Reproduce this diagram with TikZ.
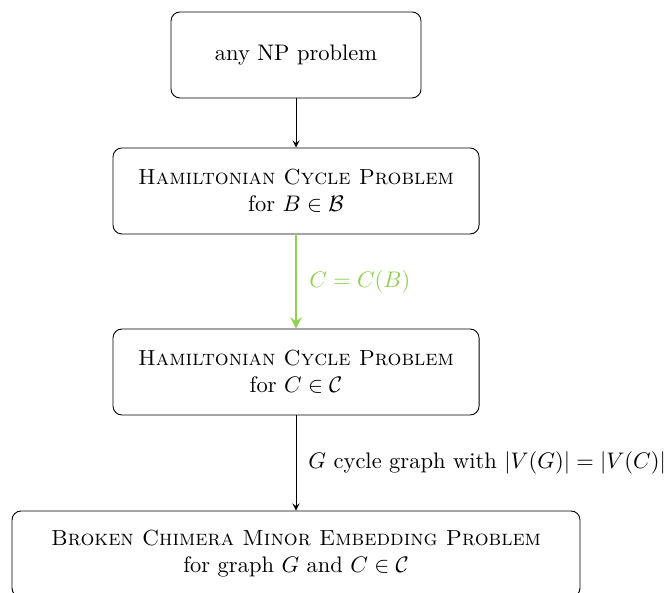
\documentclass[tikz,border=0pt]{standalone}
\usepackage{amssymb,amsmath}
\usepackage{tikz}
\definecolor{lightgreen}{RGB}{146,208,80}
\newcommand{\probname}[1]{{\fontsize{9.7pt}{12pt}\selectfont\textsc{#1}}}

\begin{document}
\begin{tikzpicture}[>=stealth,
		box/.style={draw, rounded corners=4pt, align=center, minimum height=1.344cm},
		step2/.style={->, very thick, lightgreen}]
		\def\xc{4.625}\def\H{1.344}
		\useasboundingbox (0,0) rectangle (10.39,-9.25);
		% problems
		\node[box, minimum width=3.906cm] (np) at (\xc,-0.859) {any NP problem};
		\node[box, minimum width=5.72cm] (hcb) at (\xc,-2.984) {\probname{Hamiltonian Cycle Problem}\\ for $B\in\mathcal{B}$};
		\node[box, minimum width=5.72cm] (hcc) at (\xc,-5.8125) {\probname{Hamiltonian Cycle Problem}\\ for $C\in\mathcal{C}$};
		\node[box, minimum width=8.875cm] (bcm) at (\xc,-8.656) {\probname{Broken Chimera Minor Embedding Problem}\\ for graph $G$ and $C\in\mathcal{C}$};
		% reductions
		\draw[->] (np) -- (hcb);
		\draw[step2] (hcb) -- (hcc) node[midway, right, xshift=2pt] {$C=C(B)$};
		\draw[->] (hcc) -- (bcm) node[midway, right, xshift=2pt] {$G$ cycle graph with $|V(G)|=|V(C)|$};
	\end{tikzpicture}
\end{document}
